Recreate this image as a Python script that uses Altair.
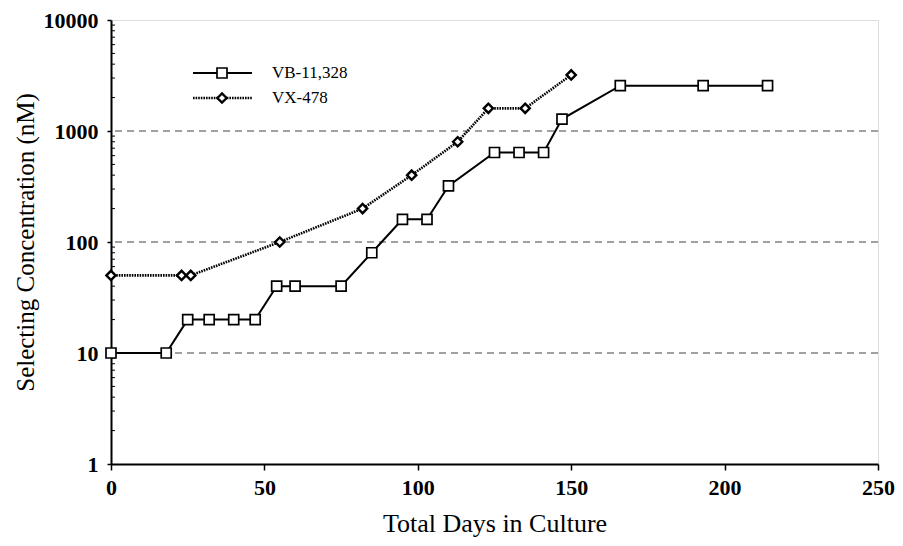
import altair as alt
import pandas as pd

# ---- data ----
series_names = ["VB-11,328", "VX-478"]
vb_days = [0, 18, 25, 32, 40, 47, 54, 60, 75, 85, 95, 103, 110, 125, 133, 141, 147, 166, 193, 214]
vb_conc = [10, 10, 20, 20, 20, 20, 40, 40, 40, 80, 160, 160, 320, 640, 640, 640, 1280, 2560, 2560, 2560]
vx_days = [0, 23, 26, 55, 82, 98, 113, 123, 135, 150]
vx_conc = [50, 50, 50, 100, 200, 400, 800, 1600, 1600, 3200]
x_ticks = [0, 50, 100, 150, 200, 250]
y_ticks = [1, 10, 100, 1000, 10000]
grid_levels = [10, 100, 1000]
minor_ticks = [m * 10 ** e for e in range(4) for m in range(2, 10)]

FONT = "Liberation Serif"

vb = pd.DataFrame({"day": vb_days, "conc": vb_conc, "series": series_names[0]})
vx = pd.DataFrame({"day": vx_days, "conc": vx_conc, "series": series_names[1]})

xscale = alt.Scale(domain=[0, 250], nice=False, zero=False)
yscale = alt.Scale(type="log", domain=[1, 10000], nice=False)

xenc = alt.X("day:Q", scale=xscale, axis=alt.Axis(
    values=x_ticks, title="Total Days in Culture", grid=False,
    labelFont=FONT, labelFontWeight="bold", labelFontSize=22, labelColor="black",
    titleFont=FONT, titleFontWeight="normal", titleFontSize=26, titleColor="black",
    tickSize=6, tickColor="black", tickWidth=1.5, domainColor="black", domainWidth=2,
    labelPadding=7, titlePadding=12, labelFlush=False))
yenc = alt.Y("conc:Q", scale=yscale, axis=alt.Axis(
    values=y_ticks, format="d", title="Selecting Concentration (nM)", grid=False,
    labelFont=FONT, labelFontWeight="bold", labelFontSize=22, labelColor="black",
    titleFont=FONT, titleFontWeight="normal", titleFontSize=25, titleColor="black",
    tickSize=4, tickColor="black", tickWidth=1.5, domainColor="black", domainWidth=2,
    labelPadding=9, titlePadding=5, labelFlush=False))

grid = alt.Chart(pd.DataFrame({"g": grid_levels})).mark_rule(
    color="#444444", strokeWidth=1.2, strokeDash=[7, 5]
).encode(y=alt.Y("g:Q", scale=yscale))

minor = alt.Chart(pd.DataFrame({"m": minor_ticks})).mark_rule(
    color="black", strokeWidth=1
).encode(y=alt.Y("m:Q", scale=yscale), x=alt.value(0), x2=alt.value(4))

vb_line = alt.Chart(vb).mark_line(color="black", strokeWidth=2).encode(x=xenc, y=yenc)
vb_pts = alt.Chart(vb).mark_point(shape="square", filled=True, fill="white", stroke="black",
                                   strokeWidth=1.7, size=100, opacity=1).encode(x=xenc, y=yenc)
vx_line = alt.Chart(vx).mark_line(color="black", strokeWidth=2.6, strokeDash=[1.6, 1]).encode(x=xenc, y=yenc)
vx_pts = alt.Chart(vx).mark_point(shape="diamond", filled=True, fill="white", stroke="black",
                                   strokeWidth=2.4, size=85, opacity=1).encode(x=xenc, y=yenc)

# ---- in-plot legend ----
def legend_row(name, ypx, dash, shape, size, sw):
    d = pd.DataFrame({"name": [name]})
    base = alt.Chart(d)
    line_kw = dict(color="black", strokeWidth=2 if dash is None else 2.6)
    if dash is not None:
        line_kw["strokeDash"] = dash
    ln = base.mark_rule(**line_kw).encode(x=alt.value(82), x2=alt.value(141), y=alt.value(ypx))
    pt = base.mark_point(shape=shape, filled=True, fill="white", stroke="black",
                         strokeWidth=sw, size=size, opacity=1).encode(x=alt.value(111), y=alt.value(ypx))
    tx = base.mark_text(font=FONT, fontSize=17, align="left", baseline="middle", color="black").encode(
        x=alt.value(161), y=alt.value(ypx), text="name:N")
    return [ln, pt, tx]

legend_layers = legend_row(series_names[0], 53, None, "square", 100, 1.7) + \
    legend_row(series_names[1], 78, [1.6, 1], "diamond", 85, 2.4)

chart = alt.layer(grid, minor, vb_line, vx_line, vb_pts, vx_pts, *legend_layers).properties(
    width=767, height=444,
    autosize=alt.AutoSizeParams(type="none"),
    padding={"left": 103, "top": 12, "right": 17, "bottom": 74},
).configure_view(stroke="black", strokeWidth=1.5).configure(background="white")

chart.save("out.html", embed_options={"renderer": "svg", "actions": False})
